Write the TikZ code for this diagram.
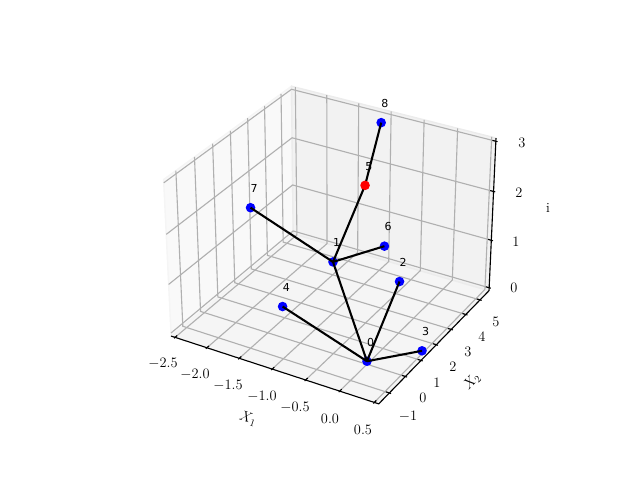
\documentclass[tikz,border=0pt]{standalone}
\usepackage{fontspec}
\newfontfamily\dvs{DejaVu Sans}
\definecolor{gridgray}{HTML}{B0B0B0}
\definecolor{paneX}{rgb}{0.975,0.975,0.975}
\definecolor{paneY}{rgb}{0.95,0.95,0.95}
\definecolor{paneZ}{rgb}{0.9625,0.9625,0.9625}
\definecolor{edgeX}{rgb}{0.9625,0.9625,0.9625}
\definecolor{edgeY}{rgb}{0.925,0.925,0.925}
\definecolor{edgeZ}{rgb}{0.944,0.944,0.944}
\def\pLo{-0.0208333}
\def\pHi{1.0208333}
\newcommand\ProjPt[4]{%
  \pgfmathsetmacro\qqx{((#2)-0.5)*1.142857}%
  \pgfmathsetmacro\qqy{((#3)-0.5)*1.142857}%
  \pgfmathsetmacro\qqz{((#4)-0.5)*0.857143}%
  \pgfmathsetmacro\qqd{10-(0.433013*\qqx-0.75*\qqy+0.5*\qqz)}%
  \pgfmathsetmacro\qsx{333.0+1997.8*(0.866025*\qqx+0.5*\qqy)/\qqd}%
  \pgfmathsetmacro\qsy{242.6+1997.8*(-0.25*\qqx+0.433013*\qqy+0.866025*\qqz)/\qqd}%
  \coordinate (#1) at (\qsx,\qsy);}
\newcommand\DataPt[4]{\ProjPt{#1}{((#2)+2.5)/3}{((#3)+1.5)/7}{(#4)/3}}
\tikzset{
  gridline/.style={draw=gridgray, line width=1.11pt},
  axline/.style={draw=black, line width=1.11pt},
  edgeline/.style={draw=black, line width=2.08pt},
  dotb/.style={circle, fill=blue, inner sep=0pt, minimum size=9.6pt},
  dotr/.style={circle, fill=red, inner sep=0pt, minimum size=9.6pt},
  ticklab/.style={font=\fontsize{13.9}{16}\selectfont, inner sep=0pt},
  nlab/.style={font=\dvs\fontsize{11}{13}\selectfont, anchor=base west, inner sep=0pt},
}
\begin{document}
\begin{tikzpicture}[x=1pt,y=1pt]
\useasboundingbox (0,0) rectangle (640,480);
% box corners
\ProjPt{A}{\pLo}{\pLo}{\pLo}
\ProjPt{B}{\pHi}{\pLo}{\pLo}
\ProjPt{C}{\pHi}{\pHi}{\pLo}
\ProjPt{D}{\pLo}{\pHi}{\pLo}
\ProjPt{E}{\pLo}{\pLo}{\pHi}
\ProjPt{G}{\pHi}{\pHi}{\pHi}
\ProjPt{H}{\pLo}{\pHi}{\pHi}
% panes
\filldraw[fill=paneZ, draw=edgeZ, line width=1.39pt] (A) -- (B) -- (C) -- (D) -- cycle;
\filldraw[fill=paneX, draw=edgeX, line width=1.39pt] (A) -- (D) -- (H) -- (E) -- cycle;
\filldraw[fill=paneY, draw=edgeY, line width=1.39pt] (D) -- (C) -- (G) -- (H) -- cycle;
% grid lines
\foreach \t in {0,...,6}{
  \ProjPt{gx1}{\t/6}{\pHi}{\pHi}
  \ProjPt{gx2}{\t/6}{\pHi}{\pLo}
  \ProjPt{gx3}{\t/6}{\pLo}{\pLo}
  \draw[gridline] (gx1) -- (gx2) -- (gx3);
}
\foreach \t in {-1,...,5}{
  \ProjPt{gy1}{\pLo}{(\t+1.5)/7}{\pHi}
  \ProjPt{gy2}{\pLo}{(\t+1.5)/7}{\pLo}
  \ProjPt{gy3}{\pHi}{(\t+1.5)/7}{\pLo}
  \draw[gridline] (gy1) -- (gy2) -- (gy3);
}
\foreach \t in {0,...,3}{
  \ProjPt{gz1}{\pHi}{\pHi}{\t/3}
  \ProjPt{gz2}{\pLo}{\pHi}{\t/3}
  \ProjPt{gz3}{\pLo}{\pLo}{\t/3}
  \draw[gridline] (gz1) -- (gz2) -- (gz3);
}
% axis lines
\draw[axline] (A) -- (B) -- (C) -- (G);
% tick marks
\foreach \t in {0,...,6}{
  \ProjPt{tx1}{\t/6}{\pLo-0.008333}{\pLo}
  \ProjPt{tx2}{\t/6}{\pLo+0.016667}{\pLo}
  \draw[axline] (tx1) -- (tx2);
}
\foreach \t in {-1,...,5}{
  \ProjPt{ty1}{\pHi+0.008333}{(\t+1.5)/7}{\pLo}
  \ProjPt{ty2}{\pHi-0.016667}{(\t+1.5)/7}{\pLo}
  \draw[axline] (ty1) -- (ty2);
}
\foreach \t in {0,...,3}{
  \ProjPt{tz1}{\pHi+0.008333}{\pHi}{\t/3}
  \ProjPt{tz2}{\pHi-0.016667}{\pHi}{\t/3}
  \draw[axline] (tz1) -- (tz2);
}
% tick labels
\node[ticklab] (xl1) at (163,117) {$-2.5$};
\node[ticklab] (xl2) at (195,106) {$-2.0$};
\node[ticklab] (xl3) at (228,95) {$-1.5$};
\node[ticklab] (xl4) at (262,84) {$-1.0$};
\node[ticklab] (xl5) at (295,73) {$-0.5$};
\node[ticklab] (xl6) at (330,61) {$0.0$};
\node[ticklab] (xl7) at (363,50) {$0.5$};
\node[ticklab] (yl1) at (408,64) {$-1$};
\node[ticklab] (yl2) at (423,82) {$0$};
\node[ticklab] (yl3) at (437,97) {$1$};
\node[ticklab] (yl4) at (453,113) {$2$};
\node[ticklab] (yl5) at (468,128) {$3$};
\node[ticklab] (yl6) at (482,143) {$4$};
\node[ticklab] (yl7) at (496,158) {$5$};
\node[ticklab] (zl1) at (514,192) {$0$};
\node[ticklab] (zl2) at (516,238) {$1$};
\node[ticklab] (zl3) at (519,287) {$2$};
\node[ticklab] (zl4) at (522,337) {$3$};
% axis labels
\node[ticklab, rotate=-18.1] (xlab) at (248,61) {$X_1$};
\node[ticklab, rotate=45.7] (ylab) at (472,98) {$X_2$};
\node[ticklab] (zlab) at (548,272) {i};
% data points
\DataPt{p0}{0}{0}{0}
\DataPt{p1}{-1}{2}{1}
\DataPt{p2}{0}{2}{1}
\DataPt{p3}{0.5}{1.333}{0}
\DataPt{p4}{-1}{-1}{1}
\DataPt{p5}{-1}{4}{2}
\DataPt{p6}{0}{1}{2}
\DataPt{p7}{-2}{1}{2}
\DataPt{p8}{-1}{5}{3}
\foreach \i in {0,1,2,3,4,6,7,8}{\node[dotb] (n\i) at (p\i) {};}
\draw[edgeline] (n0.center) -- (n1.center);
\draw[edgeline] (n0.center) -- (n2.center);
\draw[edgeline] (n0.center) -- (n3.center);
\draw[edgeline] (n0.center) -- (n4.center);
\draw[edgeline] (n1.center) -- (p5) -- (n8.center);
\draw[edgeline] (n1.center) -- (n6.center);
\draw[edgeline] (n1.center) -- (n7.center);
\node[dotr] (n5) at (p5) {};
\foreach \i in {0,...,8}{\node[nlab] (lab\i) at ([yshift=15.2pt]p\i) {\i};}
\end{tikzpicture}
\end{document}
